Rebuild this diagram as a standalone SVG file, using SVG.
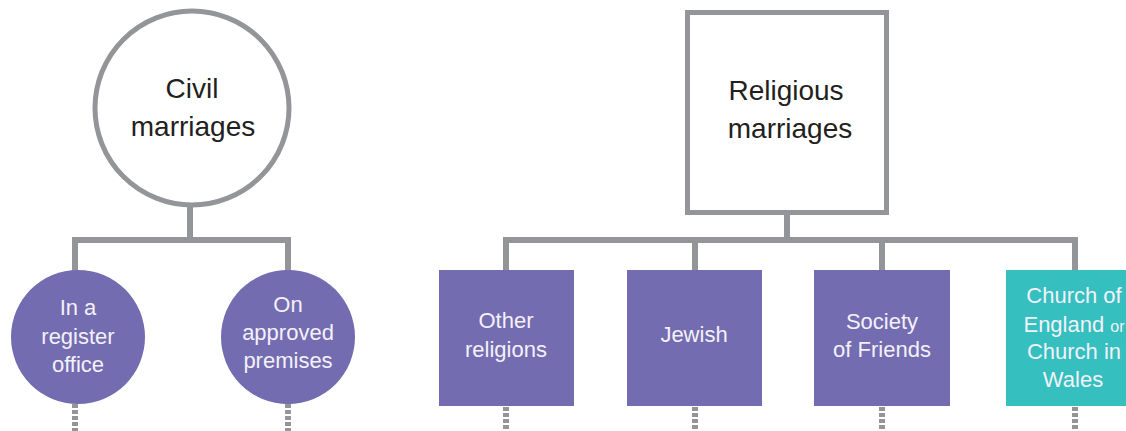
<svg xmlns="http://www.w3.org/2000/svg" width="1126" height="431" viewBox="0 0 1126 431">
<style>
.ln{stroke:#939598;stroke-width:6;fill:none}
.dash{stroke:#939598;stroke-width:6;fill:none;stroke-dasharray:4 2}
.pur{fill:#736cb0}
.teal{fill:#35bfbe}
.t{font-family:"Liberation Sans",Arial,sans-serif;text-anchor:middle}
.w{fill:#f3f1fa;font-size:22px}
.d{fill:#231f20;font-size:28px}
</style>
<rect width="1126" height="431" fill="#ffffff"/>
<g id="connectors">
  <path class="ln" d="M190 205 V240 M75 240 H288 M75 237 V272 M288 237 V272"/>
  <path class="ln" d="M787 214 V240 M506 240 H1075 M506 237 V272 M695 237 V272 M882 237 V272 M1075 237 V272"/>
  <path class="dash" d="M75 404 V431 M288 404 V431 M506 407 V431 M695 407 V431 M882 407 V431 M1075 407 V431"/>
</g>
<g id="civil">
  <circle cx="192" cy="108" r="97" fill="#ffffff" stroke="#939598" stroke-width="5"/>
  <text class="t d" x="192" y="98">Civil</text>
  <text class="t d" x="193" y="136">marriages</text>
</g>
<g id="register-office">
  <circle class="pur" cx="78" cy="337" r="67"/>
  <text class="t w" x="78" y="315">In a</text>
  <text class="t w" x="78" y="344">register</text>
  <text class="t w" x="78" y="372">office</text>
</g>
<g id="approved-premises">
  <circle class="pur" cx="288" cy="337" r="67"/>
  <text class="t w" x="288" y="312">On</text>
  <text class="t w" x="288" y="340">approved</text>
  <text class="t w" x="288" y="368">premises</text>
</g>
<g id="religious">
  <rect x="687.5" y="12.5" width="199" height="200" fill="#ffffff" stroke="#939598" stroke-width="5"/>
  <text class="t d" x="786" y="100">Religious</text>
  <text class="t d" x="790" y="138">marriages</text>
</g>
<g id="other-religions">
  <rect class="pur" x="439" y="270" width="135" height="136"/>
  <text class="t w" x="506" y="328">Other</text>
  <text class="t w" x="506" y="357">religions</text>
</g>
<g id="jewish">
  <rect class="pur" x="627" y="270" width="135" height="136"/>
  <text class="t w" x="694" y="342">Jewish</text>
</g>
<g id="society-of-friends">
  <rect class="pur" x="814" y="270" width="136" height="136"/>
  <text class="t w" x="882" y="329">Society</text>
  <text class="t w" x="882" y="357">of Friends</text>
</g>
<g id="church">
  <rect class="teal" x="1006" y="270" width="135" height="136"/>
  <text class="t w" x="1074" y="303">Church of</text>
  <text class="t w" x="1074" y="332">England <tspan font-size="16">or</tspan></text>
  <text class="t w" x="1074" y="359">Church in</text>
  <text class="t w" x="1073" y="387">Wales</text>
</g>
</svg>
